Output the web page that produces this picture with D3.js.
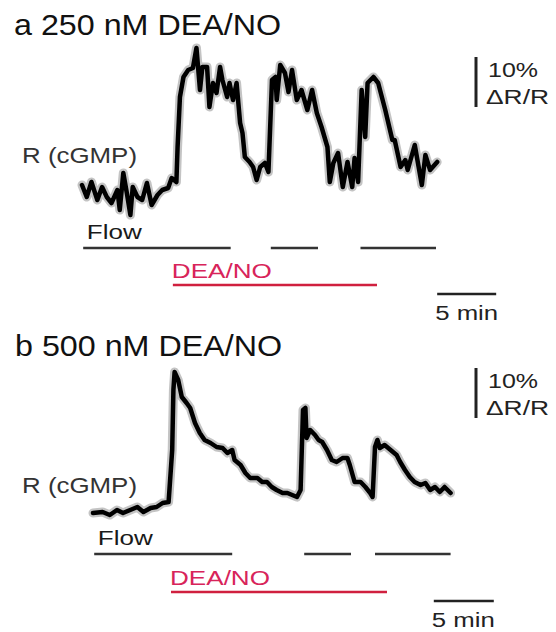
<!DOCTYPE html>
<html>
<head>
<meta charset="utf-8">
<script src="https://cdn.jsdelivr.net/npm/d3@7"></script>
<style>
  body { margin: 0; background: #fff; }
  text { font-family: "Liberation Sans", Arial, sans-serif; }
</style>
</head>
<body>
<div id="chart"></div>
<script>
// panel a : 250 nM DEA/NO  (time in min, dR/R in %)
var timeA = [0,0.4,0.8,1.3,1.7,2.1,2.5,3.0,3.2,3.5,3.8,4.1,4.3,4.7,5.1,5.5,5.9,6.4,6.8,7.3,7.6,8.0,
  8.1,8.3,8.6,9.0,9.4,9.7,10.0,10.2,10.6,10.8,11.1,11.4,11.7,11.9,12.3,12.5,12.8,13.1,13.4,13.6,13.8,
  14.2,14.5,14.8,15.1,15.5,15.8,16.1,16.4,16.5,16.8,17.2,17.5,17.8,18.2,18.6,19.1,19.5,19.9,20.3,20.8,
  21.0,21.3,21.7,22.1,22.5,22.9,23.1,23.4,23.7,24.0,24.2,24.7,25.1,25.7,26.3,26.5,27.0,27.4,27.6,28.2,
  28.8,29.1,29.5,30.1];
var valA = [2.0,-0.4,2.6,-1.0,1.6,-0.4,-1.6,1.0,-3.0,4.4,0.4,-4.0,1.6,-0.4,-1.0,2.4,-2.0,0,1.0,1.4,3.4,2.6,
  9.6,19.6,23.6,25.0,25.4,29.4,21.0,25.6,25.6,17.6,22.4,20.4,25.6,23.0,19.6,22.4,19.0,22.4,14.4,12.4,7.6,
  6.6,5.6,3.0,5.6,6.4,4.6,23.0,23.6,19.0,26.0,24.4,20.6,25.0,19.0,21.0,17.0,21.0,16.4,13.6,9.6,
  2.6,6.4,8.4,1.6,6.6,1.6,7.4,2.6,21.0,11.6,22.4,23.6,22.4,17.0,11.0,11.0,5.6,7.0,5.0,10.0,
  2.0,8.0,5.0,6.6];
var flowA = [[0.1, 12.6], [16.0, 20.0], [23.6, 30.0]];
var drugA = [7.7, 25.0];

// panel b : 500 nM DEA/NO
var timeB = [0,0.8,1.4,2.0,2.5,3.1,3.7,4.2,4.8,5.3,5.8,6.3,6.6,6.7,6.8,7.1,7.4,7.8,8.1,8.5,8.9,9.3,9.8,
  10.3,10.8,11.2,11.6,11.8,12.3,12.7,13.1,13.7,14.1,14.5,14.9,15.3,15.8,16.2,16.6,17.0,17.3,17.5,17.7,
  17.8,18.1,18.5,18.8,19.1,19.5,19.9,20.3,20.8,21.2,21.4,21.8,22.3,22.7,23.1,23.3,23.5,23.7,23.9,24.3,
  24.8,25.3,25.6,26.0,26.4,26.8,27.3,27.7,28.1,28.5,28.9,29.3,29.8];
var valB = [-0.2,0,-0.6,0.4,-0.2,0.4,1.0,0,0.8,1.0,1.8,2.0,12.4,24.4,28.0,26.4,23.0,21.8,20.8,17.8,15.8,
  14.4,13.8,13.0,12.8,11.8,12.4,10.4,9.4,7.8,6.8,6.8,6.0,6.0,5.0,4.4,3.8,3.8,3.4,3.0,4.4,20.4,20.8,
  14.8,16.4,15.4,14.4,14.0,12.4,10.4,10.0,10.8,10.8,9.4,6.0,6.0,5.0,3.8,3.0,13.0,14.4,12.8,13.4,
  12.4,11.4,10.0,8.4,7.0,6.0,5.4,5.8,4.4,5.0,4.0,5.0,3.8];
var flowB = [[0.1, 11.6], [17.6, 21.5], [23.5, 29.8]];
var drugB = [6.5, 24.5];

var titles = ["a 250 nM DEA/NO", "b 500 nM DEA/NO"];
var scaleTime = 5;    // min
var scaleDR = 10;     // %

var W = 556, H = 632;
var svg = d3.select("#chart").append("svg").attr("width", W).attr("height", H);

var panels = [
  {title: titles[0], t: timeA, v: valA, flow: flowA, drug: drugA,
   x0: 82, ppm: 11.8, base: 195, top: 0, sbStart: 30.1, sbV: 17.6, flowY: 248, drugY: 285, sbY: 294},
  {title: titles[1], t: timeB, v: valB, flow: flowB, drug: drugB,
   x0: 93, ppm: 12.0, base: 512, top: 321, sbStart: 28.4, sbV: 18.8, flowY: 554, drugY: 592, sbY: 601}
];

function label(x, y, str, size, len, color) {
  svg.append("text").attr("x", x).attr("y", y)
    .attr("font-size", size).attr("fill", color || "#1a1a1a")
    .attr("textLength", len).attr("lengthAdjust", "spacingAndGlyphs")
    .text(str);
}

panels.forEach(function(p, i) {
  var x = d3.scaleLinear().domain([0, 30]).range([p.x0, p.x0 + 30 * p.ppm]);
  var y = d3.scaleLinear().domain([0, 30]).range([p.base, p.base - 150]);
  var pts = p.t.map(function(d, k) { return [d, p.v[k]]; });
  var line = d3.line().x(function(d) { return x(d[0]); }).y(function(d) { return y(d[1]); });

  // title
  label(14 + i, p.top + 35, p.title, 30, 267, "#111");

  // trace: grey halo under black line
  svg.append("path").datum(pts).attr("d", line)
    .attr("fill", "none").attr("stroke", "#c4c4c4").attr("stroke-width", 9)
    .attr("stroke-linejoin", "round").attr("stroke-linecap", "round");
  svg.append("path").datum(pts).attr("d", line)
    .attr("fill", "none").attr("stroke", "#000").attr("stroke-width", 4.5)
    .attr("stroke-linejoin", "round").attr("stroke-linecap", "round");

  // R (cGMP)
  label(22, i == 0 ? 163 : 493, "R (cGMP)", 22, 115, "#333");

  // flow bars
  svg.selectAll(null).data(p.flow).enter().append("line")
    .attr("x1", function(d) { return x(d[0]); }).attr("x2", function(d) { return x(d[1]); })
    .attr("y1", p.flowY).attr("y2", p.flowY)
    .attr("stroke", "#333").attr("stroke-width", 2.5);
  label(x(0.4), p.flowY - 9, "Flow", 21, 55, "#1a1a1a");

  // DEA/NO bar
  svg.append("line")
    .attr("x1", x(p.drug[0])).attr("x2", x(p.drug[1]))
    .attr("y1", p.drugY).attr("y2", p.drugY)
    .attr("stroke", "#d0203f").attr("stroke-width", 2.5);
  label(x(p.drug[0]) - 1, p.drugY - 7, "DEA/NO", 21, 100, "#d8245a");

  // time scale bar
  svg.append("line")
    .attr("x1", x(p.sbStart)).attr("x2", x(p.sbStart + scaleTime))
    .attr("y1", p.sbY).attr("y2", p.sbY)
    .attr("stroke", "#222").attr("stroke-width", 2.5);
  label(x(p.sbStart) - 2, p.sbY + 26, "5 min", 20, 63, "#222");

  // dR/R scale bar
  svg.append("line")
    .attr("x1", 476).attr("x2", 476)
    .attr("y1", y(p.sbV + scaleDR)).attr("y2", y(p.sbV))
    .attr("stroke", "#222").attr("stroke-width", 3);
  label(488, y(p.sbV + scaleDR) + 20, "10%", 21, 50, "#222");
  label(486, y(p.sbV + scaleDR) + 47, "\u0394R/R", 21, 63, "#222");
});
</script>
</body>
</html>
